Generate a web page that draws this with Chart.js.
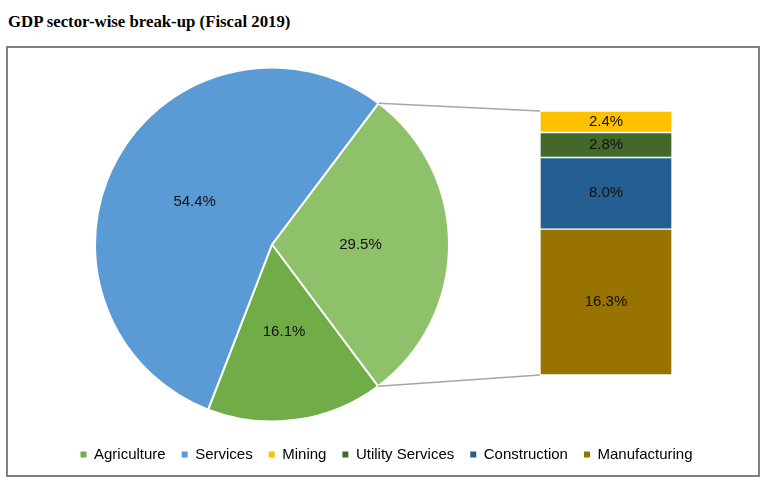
<!DOCTYPE html>
<html>
<head>
<meta charset="utf-8">
<script src="https://cdn.jsdelivr.net/npm/chart.js@4.4.0/dist/chart.umd.min.js"></script>
<style>
  body { margin: 0; background: #fff; }
  #title {
    position: absolute; left: 8px; top: 12px;
    font: bold 16.8px "Liberation Serif", "Times New Roman", serif;
    color: #000; white-space: nowrap;
  }
  #frame {
    position: absolute; left: 6px; top: 46px; width: 754px; height: 431px;
    border: 2px solid #808080; box-sizing: border-box;
  }
  canvas { position: absolute; left: 0; top: 0; }
</style>
</head>
<body>
<div id="title">GDP sector-wise break-up (Fiscal 2019)</div>
<div id="frame"></div>
<canvas id="pie" width="773" height="482"></canvas>
<canvas id="bar" width="773" height="482"></canvas>
<script>
// pie: first slice is the one split out into the bar
const pieLabels = ["Industry", "Agriculture", "Services"];
const pieValues = [29.5, 16.1, 54.4];
const pieColors = ["#8EC16A", "#70AD47", "#5B9BD5"];

// bar: bottom to top
const barLabels = ["Manufacturing", "Construction", "Utility Services", "Mining"];
const barValues = [16.3, 8.0, 2.8, 2.4];
const barColors = ["#997300", "#255E91", "#43682B", "#FFC000"];

const legendLabels = ["Agriculture", "Services", "Mining", "Utility Services", "Construction", "Manufacturing"];
const legendColors = ["#70AD47", "#5B9BD5", "#FFC000", "#43682B", "#255E91", "#997300"];

const FONT = "Liberation Sans, Arial, sans-serif";
const PIE_CX = 272; // horizontal centre of the pie
Chart.defaults.font.family = FONT;
Chart.defaults.font.size = 15;
Chart.defaults.color = "#000";

// draws value labels at each element's center
const valueLabels = {
  id: "valueLabels",
  afterDatasetsDraw(chart) {
    const ctx = chart.ctx;
    ctx.save();
    ctx.font = "15px " + FONT;
    ctx.fillStyle = "#111";
    ctx.textAlign = "center";
    ctx.textBaseline = "middle";
    chart.data.datasets.forEach((ds, di) => {
      chart.getDatasetMeta(di).data.forEach((el, i) => {
        const p = el.getCenterPoint();
        ctx.fillText(ds.data[i].toFixed(1) + "%", p.x, p.y);
      });
    });
    ctx.restore();
  }
};

// legend spans the full width, so move the pie area left after layout
const shiftPie = {
  id: "shiftPie",
  afterLayout(chart) {
    const a = chart.chartArea;
    const half = (a.right - a.left) / 2;
    a.left = PIE_CX - half;
    a.right = PIE_CX + half;
  }
};

const pieChart = new Chart(document.getElementById("pie"), {
  type: "pie",
  data: {
    labels: pieLabels,
    datasets: [{
      data: pieValues,
      backgroundColor: pieColors,
      borderColor: "#fff",
      borderWidth: 2
    }]
  },
  options: {
    responsive: false,
    animation: false,
    rotation: 37,
    radius: 177,
    layout: { padding: { left: 0, right: 0, top: 58, bottom: 10 } },
    plugins: {
      tooltip: { enabled: false },
      legend: {
        position: "bottom",
        onClick: null,
        labels: {
          boxWidth: 6,
          boxHeight: 6,
          padding: 16,
          color: "#000",
          generateLabels: () => legendLabels.map((t, i) => ({
            text: t,
            fillStyle: legendColors[i],
            strokeStyle: legendColors[i],
            lineWidth: 0,
            index: i
          }))
        }
      }
    }
  },
  plugins: [shiftPie, valueLabels]
});

// connector lines from the split slice to the bar's corners
const connectors = {
  id: "connectors",
  beforeDatasetsDraw(chart) {
    const arc = pieChart.getDatasetMeta(0).data[0];
    const { left, top, bottom } = chart.chartArea;
    const ctx = chart.ctx;
    ctx.save();
    ctx.strokeStyle = "#A6A6A6";
    ctx.lineWidth = 1.5;
    ctx.beginPath();
    ctx.moveTo(arc.x + arc.outerRadius * Math.cos(arc.startAngle), arc.y + arc.outerRadius * Math.sin(arc.startAngle));
    ctx.lineTo(left, top);
    ctx.moveTo(arc.x + arc.outerRadius * Math.cos(arc.endAngle), arc.y + arc.outerRadius * Math.sin(arc.endAngle));
    ctx.lineTo(left, bottom);
    ctx.stroke();
    ctx.restore();
  }
};

new Chart(document.getElementById("bar"), {
  type: "bar",
  data: {
    labels: ["Industry"],
    datasets: barLabels.map((l, i) => ({
      label: l,
      data: [barValues[i]],
      backgroundColor: barColors[i],
      borderColor: "#fff",
      borderWidth: 1,
      borderSkipped: false,
      barPercentage: 1,
      categoryPercentage: 1
    }))
  },
  options: {
    responsive: false,
    animation: false,
    layout: { padding: { left: 540, right: 101, top: 111, bottom: 107 } },
    scales: {
      x: { display: false, stacked: true },
      y: { display: false, stacked: true, min: 0, max: 29.5 }
    },
    plugins: {
      legend: { display: false },
      tooltip: { enabled: false }
    }
  },
  plugins: [connectors, valueLabels]
});
</script>
</body>
</html>
